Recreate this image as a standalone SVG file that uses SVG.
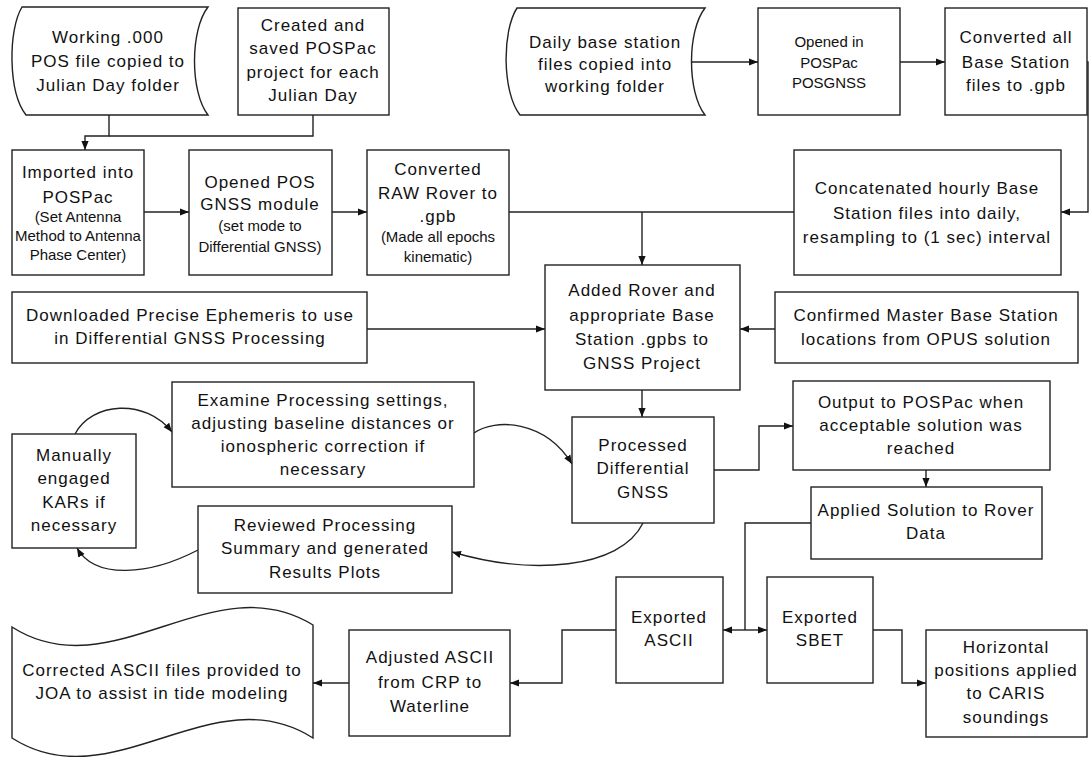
<svg xmlns="http://www.w3.org/2000/svg" width="1089" height="757" viewBox="0 0 1089 757">
<defs>
<marker id="ah" viewBox="0 0 10 8" refX="10" refY="4" markerWidth="9" markerHeight="8" markerUnits="userSpaceOnUse" orient="auto">
<path d="M0,0 L10,4 L0,8 z" fill="#111"/>
</marker>
</defs>
<style>
.n{fill:#fff;stroke:#222;stroke-width:1.4}
.t{font-family:"Liberation Sans",Arial,sans-serif;font-size:17px;letter-spacing:1px;fill:#111;text-anchor:middle}
.s{font-family:"Liberation Sans",Arial,sans-serif;font-size:15px;fill:#111;text-anchor:middle}
.c{fill:none;stroke:#222;stroke-width:1.4}
.a{marker-end:url(#ah)}
</style>
<rect width="1089" height="757" fill="#fff"/>

<g id="connectors">
<path class="c a" d="M109,115 V136 H85 V150"/>
<path class="c" d="M313,115 V136 H109"/>
<path class="c a" d="M144,212 H189"/>
<path class="c a" d="M332,212 H367"/>
<path class="c" d="M509,212 H794"/>
<path class="c a" d="M642,212 V265"/>
<path class="c a" d="M692,62 H758"/>
<path class="c a" d="M900,62 H945"/>
<path class="c a" d="M1087,62 H1088 V212 H1061"/>
<path class="c a" d="M367,329 H545"/>
<path class="c a" d="M775,329 H740"/>
<path class="c a" d="M642,390 V417"/>
<path class="c a" d="M714,470 H759 V426 H793"/>
<path class="c a" d="M926,470 V487"/>
<path class="c" d="M811,523 H745 V630"/>
<path class="c a" d="M745,630 H723"/>
<path class="c a" d="M745,630 H767"/>
<path class="c a" d="M873,630 H902 V683 H926"/>
<path class="c a" d="M616,630 H562 V683 H510"/>
<path class="c a" d="M349,683 H313"/>
<path class="c a" d="M75,434 C92,402 145,398 172,432"/>
<path class="c a" d="M474,433 C495,418 545,420 572,464"/>
<path class="c a" d="M643,523 C620,570 530,575 452,552"/>
<path class="c a" d="M198,550 C150,575 95,580 77,548"/>
</g>

<g id="working">
<path class="n" d="M22,7 H208 C190,30 190,92 208,115 H26 C8,92 8,30 22,7 Z"/>
<text class="t" x="108" y="43">Working .000</text>
<text class="t" x="108" y="67">POS file copied to</text>
<text class="t" x="108" y="91">Julian Day folder</text>
</g>

<g id="created">
<rect class="n" x="238" y="8" width="151" height="107"/>
<text class="t" x="313" y="31">Created and</text>
<text class="t" x="313" y="54">saved POSPac</text>
<text class="t" x="313" y="78">project for each</text>
<text class="t" x="313" y="101">Julian Day</text>
</g>

<g id="daily">
<path class="n" d="M517,8 H705 C687,31 687,92 705,115 H520 C502,92 502,31 517,8 Z"/>
<text class="t" x="605" y="48">Daily base station</text>
<text class="t" x="605" y="70">files copied into</text>
<text class="t" x="605" y="92">working folder</text>
</g>

<g id="openedin">
<rect class="n" x="758" y="8" width="142" height="107"/>
<text class="s" x="829" y="47">Opened in</text>
<text class="s" x="829" y="68">POSPac</text>
<text class="s" x="829" y="88">POSGNSS</text>
</g>

<g id="convertedall">
<rect class="n" x="945" y="8" width="142" height="107"/>
<text class="t" x="1016" y="43">Converted all</text>
<text class="t" x="1016" y="68">Base Station</text>
<text class="t" x="1016" y="91">files to .gpb</text>
</g>

<g id="imported">
<rect class="n" x="12" y="150" width="132" height="125"/>
<text class="t" x="78" y="178">Imported into</text>
<text class="t" x="78" y="203">POSPac</text>
<text class="s" x="78" y="222">(Set Antenna</text>
<text class="s" x="78" y="241">Method to Antenna</text>
<text class="s" x="78" y="260">Phase Center)</text>
</g>

<g id="openedpos">
<rect class="n" x="189" y="150" width="143" height="125"/>
<text class="t" x="260" y="188">Opened POS</text>
<text class="t" x="260" y="210">GNSS module</text>
<text class="s" x="260" y="231">(set mode to</text>
<text class="s" x="260" y="252">Differential GNSS)</text>
</g>

<g id="convertedraw">
<rect class="n" x="367" y="150" width="142" height="125"/>
<text class="t" x="438" y="175">Converted</text>
<text class="t" x="438" y="199">RAW Rover to</text>
<text class="t" x="438" y="222">.gpb</text>
<text class="s" x="438" y="242">(Made all epochs</text>
<text class="s" x="438" y="262">kinematic)</text>
</g>

<g id="concatenated">
<rect class="n" x="794" y="150" width="267" height="125"/>
<text class="t" x="927" y="194">Concatenated hourly Base</text>
<text class="t" x="927" y="219">Station files into daily,</text>
<text class="t" x="927" y="243">resampling to (1 sec) interval</text>
</g>

<g id="downloaded">
<rect class="n" x="12" y="292" width="355" height="71"/>
<text class="t" x="190" y="321">Downloaded Precise Ephemeris to use</text>
<text class="t" x="190" y="344">in Differential GNSS Processing</text>
</g>

<g id="added">
<rect class="n" x="545" y="265" width="195" height="125"/>
<text class="t" x="642" y="296">Added Rover and</text>
<text class="t" x="642" y="321">appropriate Base</text>
<text class="t" x="642" y="345">Station .gpbs to</text>
<text class="t" x="642" y="369">GNSS Project</text>
</g>

<g id="confirmed">
<rect class="n" x="775" y="292" width="303" height="71"/>
<text class="t" x="926" y="321">Confirmed Master Base Station</text>
<text class="t" x="926" y="345">locations from OPUS solution</text>
</g>

<g id="examine">
<rect class="n" x="172" y="382" width="302" height="105"/>
<text class="t" x="323" y="406">Examine Processing settings,</text>
<text class="t" x="323" y="429">adjusting baseline distances or</text>
<text class="t" x="323" y="452">ionospheric correction if</text>
<text class="t" x="323" y="475">necessary</text>
</g>

<g id="manually">
<rect class="n" x="12" y="434" width="124" height="114"/>
<text class="t" x="74" y="461">Manually</text>
<text class="t" x="74" y="484">engaged</text>
<text class="t" x="74" y="508">KARs if</text>
<text class="t" x="74" y="531">necessary</text>
</g>

<g id="processed">
<rect class="n" x="572" y="417" width="142" height="106"/>
<text class="t" x="643" y="451">Processed</text>
<text class="t" x="643" y="474">Differential</text>
<text class="t" x="643" y="498">GNSS</text>
</g>

<g id="output">
<rect class="n" x="793" y="381" width="257" height="89"/>
<text class="t" x="921" y="408">Output to POSPac when</text>
<text class="t" x="921" y="431">acceptable solution was</text>
<text class="t" x="921" y="454">reached</text>
</g>

<g id="applied">
<rect class="n" x="811" y="487" width="231" height="72"/>
<text class="t" x="926" y="516">Applied Solution to Rover</text>
<text class="t" x="926" y="539">Data</text>
</g>

<g id="reviewed">
<rect class="n" x="198" y="506" width="254" height="87"/>
<text class="t" x="325" y="531">Reviewed Processing</text>
<text class="t" x="325" y="554">Summary and generated</text>
<text class="t" x="325" y="578">Results Plots</text>
</g>

<g id="exportedascii">
<rect class="n" x="616" y="577" width="107" height="106"/>
<text class="t" x="669" y="623">Exported</text>
<text class="t" x="669" y="646">ASCII</text>
</g>

<g id="exportedsbet">
<rect class="n" x="767" y="577" width="106" height="106"/>
<text class="t" x="820" y="623">Exported</text>
<text class="t" x="820" y="646">SBET</text>
</g>

<g id="horizontal">
<rect class="n" x="926" y="630" width="161" height="107"/>
<text class="t" x="1006" y="653">Horizontal</text>
<text class="t" x="1006" y="676">positions applied</text>
<text class="t" x="1006" y="699">to CARIS</text>
<text class="t" x="1006" y="723">soundings</text>
</g>

<g id="adjusted">
<rect class="n" x="349" y="630" width="161" height="106"/>
<text class="t" x="430" y="663">Adjusted ASCII</text>
<text class="t" x="430" y="688">from CRP to</text>
<text class="t" x="430" y="712">Waterline</text>
</g>

<g id="corrected">
<path class="n" d="M12,627 C112,691 213,563 313,625 V738 C213,674 112,802 12,738 Z"/>
<text class="t" x="162" y="676">Corrected ASCII files provided to</text>
<text class="t" x="162" y="699">JOA to assist in tide modeling</text>
</g>
</svg>
